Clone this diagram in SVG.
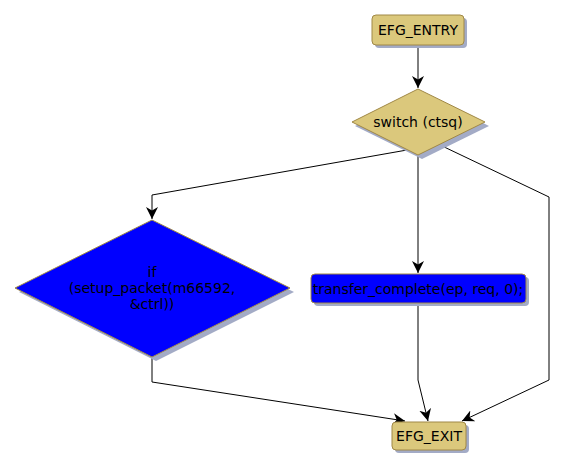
<svg xmlns="http://www.w3.org/2000/svg" width="565" height="470" viewBox="0 0 565 470">
<defs>
<style>
.t{font-family:"DejaVu Sans",Verdana,sans-serif;font-size:14px;fill:#000;text-anchor:middle;dominant-baseline:central}
.sh{fill:#a3abc6}
.tan{fill:#dbc87c;stroke:#a08846;stroke-width:1}
.blue{fill:#0000ff;stroke:#a08846;stroke-width:1}
.c{fill:none;stroke:#000;stroke-width:1}
</style>
<marker id="a" markerWidth="12" markerHeight="12" refX="10" refY="5" orient="auto" markerUnits="userSpaceOnUse" viewBox="0 0 10 10">
<path d="M0,0 L10,5 L0,10 L3,5 Z" fill="#000"/>
</marker>
</defs>
<g id="connectors">
<path class="c" d="M418,45 L418,88" marker-end="url(#a)"/>
<path class="c" d="M407,150 L152,195 L152,219" marker-end="url(#a)"/>
<path class="c" d="M418,155 L418,273" marker-end="url(#a)"/>
<path class="c" d="M440,145 L549,197 L549,380 L462,421" marker-end="url(#a)"/>
<path class="c" d="M152,357 L152,382 L405,421" marker-end="url(#a)"/>
<path class="c" d="M418,303 L418,380 L428,421" marker-end="url(#a)"/>
</g>
<g id="entry">
<rect class="sh" x="375" y="18" width="92" height="30" rx="4"/>
<rect class="tan" x="372" y="15" width="92" height="30" rx="4"/>
<text class="t" x="418" y="30">EFG_ENTRY</text>
</g>
<g id="switch">
<polygon class="sh" points="422,92 489,126 422,159 355,126"/>
<polygon class="tan" points="418,89 485,122 418,155 352,122"/>
<text class="t" x="418" y="122">switch (ctsq)</text>
</g>
<g id="if">
<polygon class="sh" points="156,224 294,292 156,361 19,292"/>
<polygon class="blue" points="152,220 290,288 152,357 15,288"/>
<text class="t" x="152" y="272">if</text>
<text class="t" x="152" y="288">(setup_packet(m66592,</text>
<text class="t" x="152" y="304">&amp;ctrl))</text>
</g>
<g id="transfer">
<rect class="sh" x="314" y="277" width="215" height="29" rx="4"/>
<rect class="blue" x="311" y="274" width="215" height="29" rx="4"/>
<text class="t" x="418" y="289">transfer_complete(ep, req, 0);</text>
</g>
<g id="exit">
<rect class="sh" x="395" y="425" width="74" height="28" rx="4"/>
<rect class="tan" x="392" y="422" width="74" height="28" rx="4"/>
<text class="t" x="429" y="436">EFG_EXIT</text>
</g>
</svg>
